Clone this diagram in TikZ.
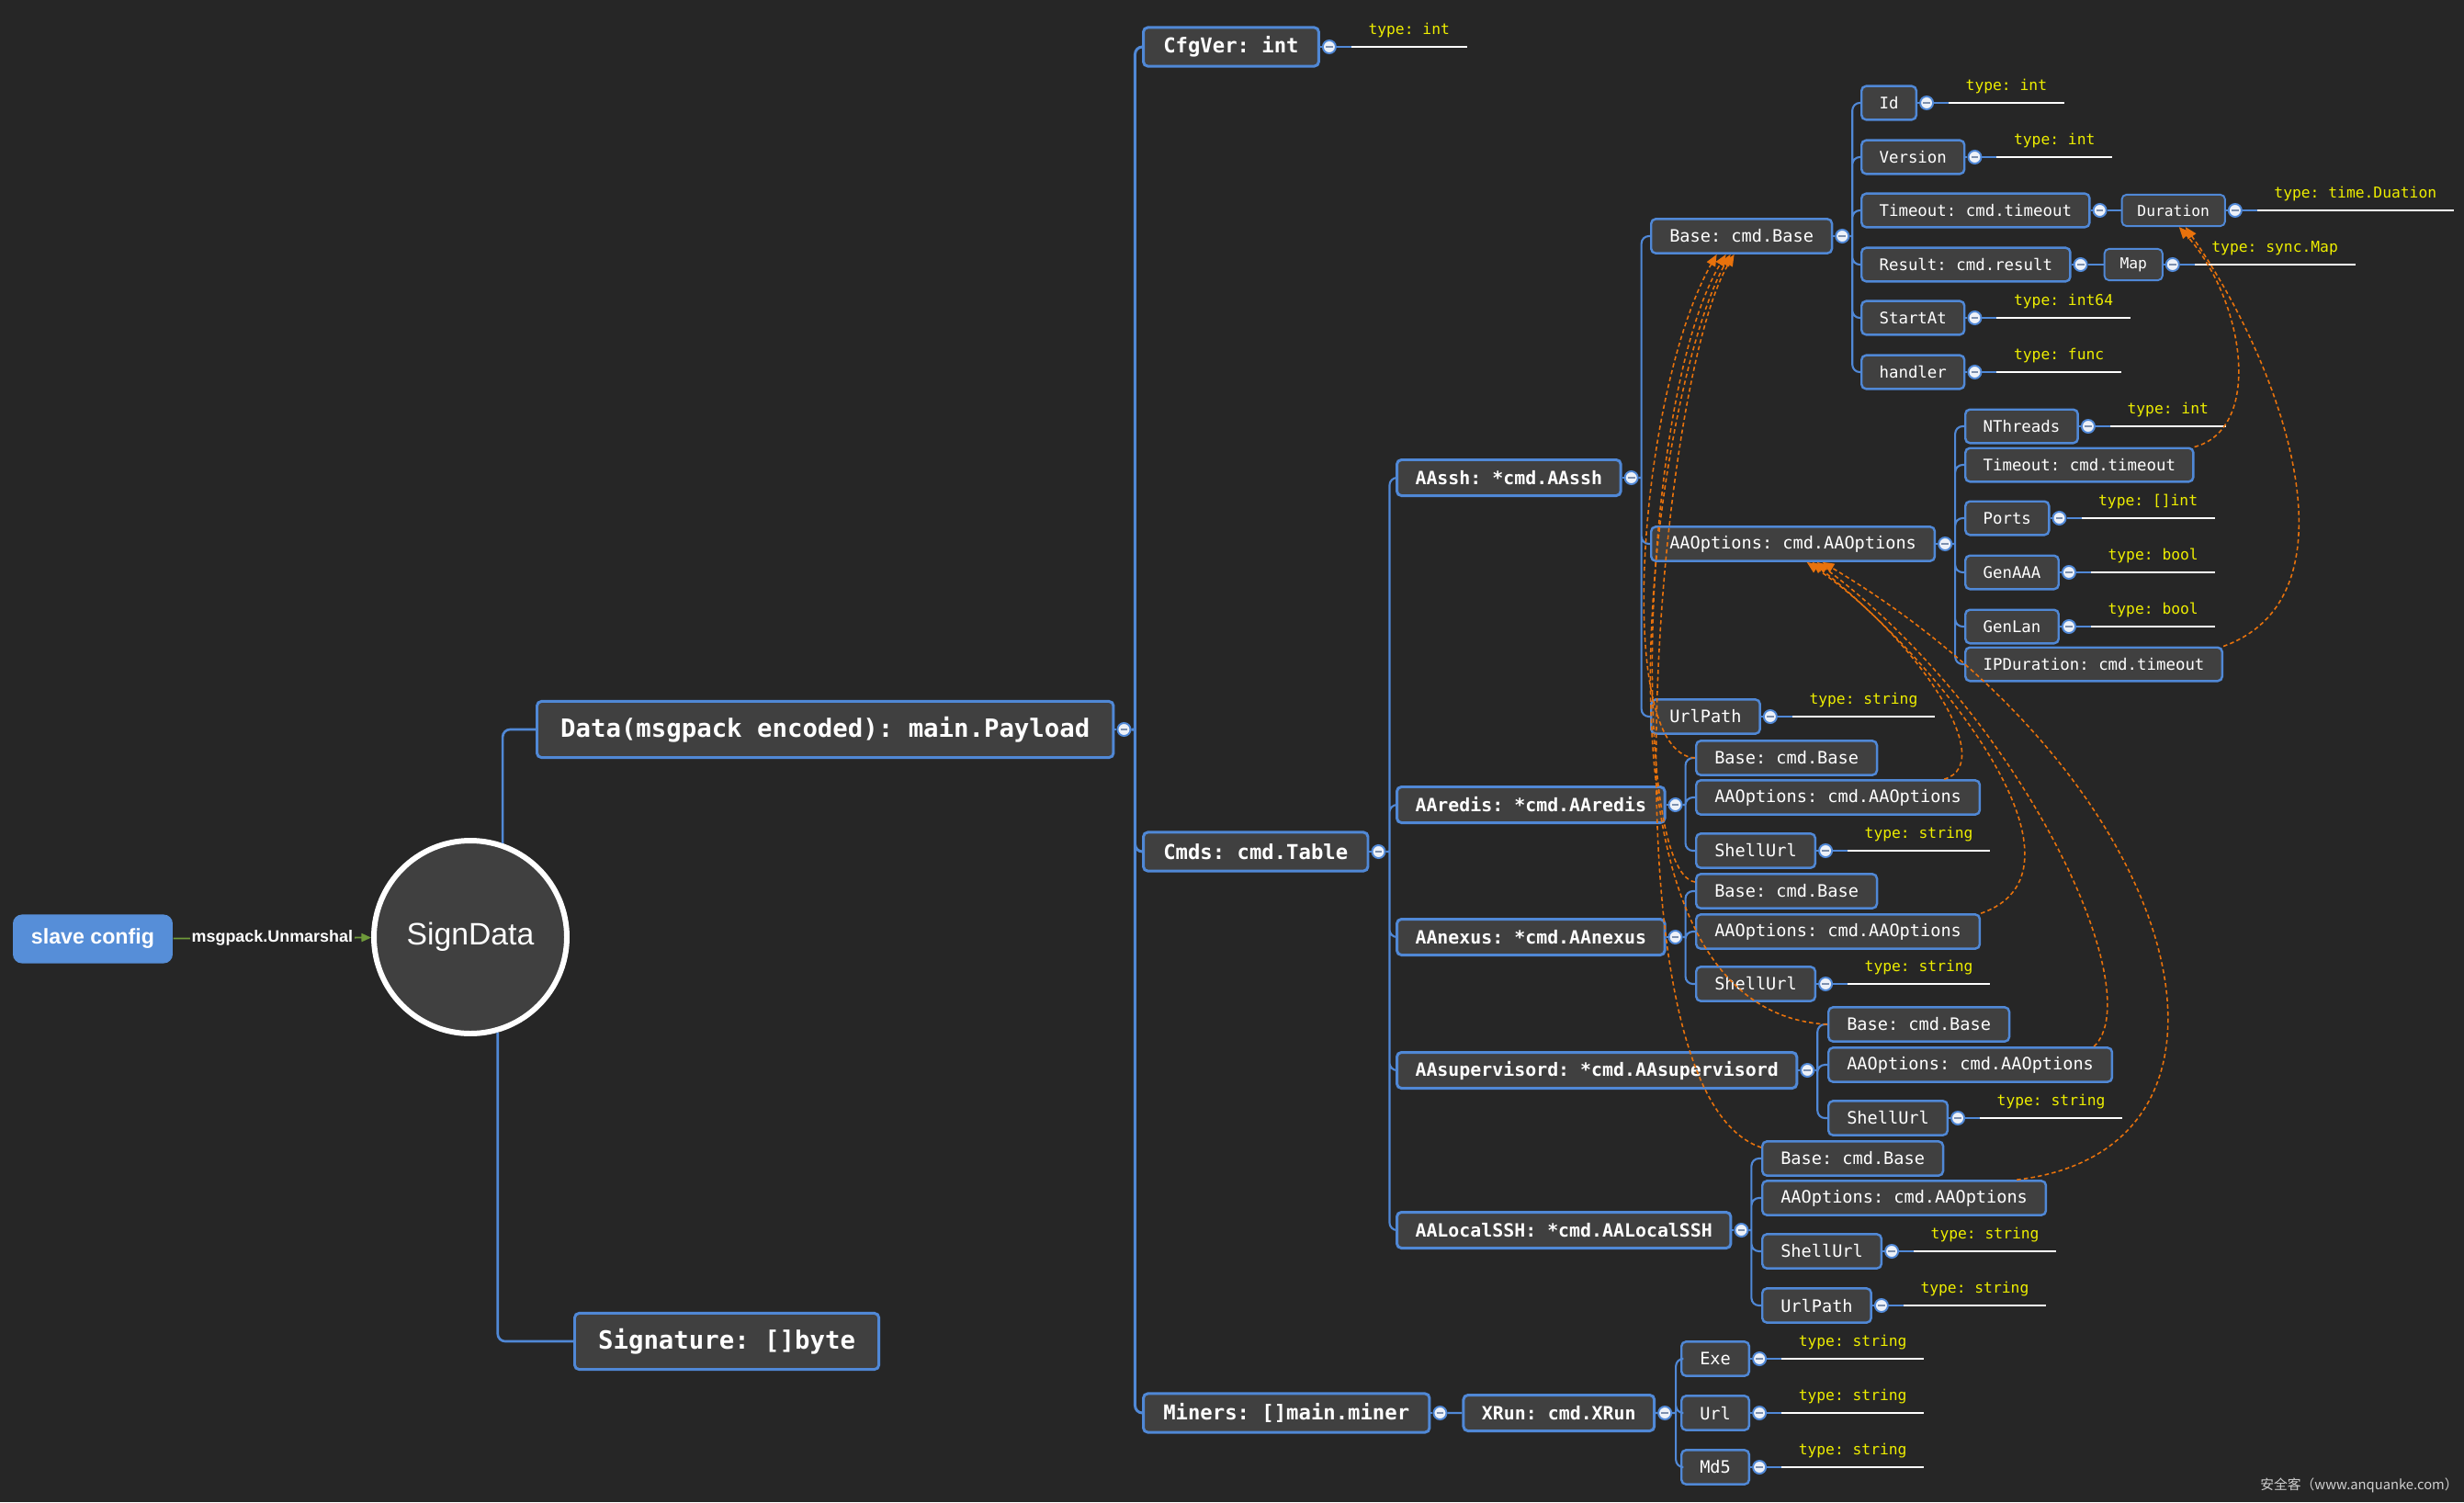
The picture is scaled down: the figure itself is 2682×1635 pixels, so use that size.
\documentclass[tikz,border=0pt]{standalone}
\usepackage{fontspec}
\setmainfont{Liberation Sans}
\setmonofont{DejaVu Sans Mono}
\newfontfamily\cjk{Noto Sans CJK SC}
\usetikzlibrary{arrows.meta,calc}
\definecolor{bgc}{HTML}{262626}
\definecolor{nodefill}{HTML}{404040}
\definecolor{mblue}{HTML}{5088D6}
\definecolor{cfgblue}{HTML}{568ED8}
\definecolor{tyel}{HTML}{EEEE00}
\definecolor{refor}{HTML}{E8720C}
\definecolor{relgreen}{HTML}{6F9A3A}
\definecolor{btnfill}{HTML}{EDF1F8}
\definecolor{minusc}{HTML}{7D90AE}
\definecolor{wmc}{HTML}{D0D0D0}

\begin{document}
\begin{tikzpicture}[x=0.1mm,y=-0.1mm,
  box/.style={draw=mblue, fill=nodefill, text=white, rounded corners=1.4pt,
    anchor=west, inner ysep=0pt, line width=0.7pt},
  lva/.style={box, line width=0.85pt, minimum height=17.4pt, inner xsep=7.3pt,
    font=\fontsize{7.78pt}{9pt}\selectfont\ttfamily\bfseries},
  lvb/.style={box, line width=0.85pt, minimum height=12pt, inner xsep=6.2pt,
    font=\fontsize{6.33pt}{7.5pt}\selectfont\ttfamily\bfseries},
  lvc/.style={box, line width=0.85pt, minimum height=11.1pt, inner xsep=5.7pt,
    font=\fontsize{5.66pt}{7pt}\selectfont\ttfamily\bfseries},
  lvd/.style={box, minimum height=10.6pt, inner xsep=5.7pt,
    font=\fontsize{5.29pt}{6.5pt}\selectfont\ttfamily},
  lve/.style={box, minimum height=10.4pt, inner xsep=5.5pt,
    font=\fontsize{4.95pt}{6pt}\selectfont\ttfamily},
  lvf/.style={box, line width=0.55pt, minimum height=9.7pt, inner xsep=4.8pt,
    font=\fontsize{4.64pt}{5.5pt}\selectfont\ttfamily},
  btn/.style={circle, draw=mblue, fill=btnfill, line width=0.55pt,
    minimum size=4pt, inner sep=0pt,
    path picture={\draw[minusc, line width=0.55pt]
      ([xshift=-1.1pt]path picture bounding box.center) --
      ([xshift=1.1pt]path picture bounding box.center);}},
  uline/.style={draw=white, line width=0.45pt},
  typ/.style={anchor=south west, text=tyel, inner xsep=5.1pt, inner ysep=2.6pt,
    font=\fontsize{4.64pt}{5.5pt}\selectfont\ttfamily,
    append after command={\pgfextra{\let\typnode\tikzlastnode}
      (\typnode.south west) edge[uline] (\typnode.south east)}},
  stem/.style={draw=mblue, line width=0.6pt, rounded corners=2.3pt},
  trunk/.style={stem, line width=0.85pt},
  relink/.style={draw=refor, line width=0.45pt, dash pattern=on 1.3pt off 0.9pt,
    -{Triangle[length=3.6pt,width=3pt]}},
  unmarsh/.style={draw=relgreen, line width=0.5pt, -{Triangle[length=3pt,width=2.6pt]}},
  unmlab/.style={fill=bgc, text=white, inner xsep=0.5pt, inner ysep=1pt,
    font=\fontsize{5.1pt}{6pt}\selectfont\bfseries},
  cfgbox/.style={fill=cfgblue, rounded corners=2.8pt, minimum width=49.5pt,
    minimum height=15.1pt, inner sep=0pt, text=white,
    font=\fontsize{6.6pt}{8pt}\selectfont\bfseries},
  rootc/.style={circle, draw=white, line width=1.7pt, fill=nodefill,
    minimum size=59.75pt, inner sep=0pt, text=white,
    font=\fontsize{9.6pt}{11pt}\selectfont}]
\useasboundingbox (0,0) rectangle (2682,1635);
\fill[bgc] (0,0) rectangle (2682,1635);

% root
\node[cfgbox] (slave) at (101,1022) {slave config};
\node[rootc] (sign) at (512,1020) {SignData};
\draw[unmarsh] (slave) -- node[unmlab] (unm) {msgpack.Unmarshal} (sign);

% payload and signature
\node[lva] (data) at (583,794) {Data(msgpack encoded): main.Payload};
\node[btn] (dataB) at ($(data.east)+(10,0)$) {};
\node[lva] (sig) at (624,1460) {Signature: []byte};
\draw[stem, line width=0.75pt] (sign.71) |- (data.west) (sign.-74) |- (sig.west);
\draw[stem] (data) -- (dataB);

% payload fields
\node[lvb] (cfg) at (1243,51) {CfgVer: int};
\node[btn] (cfgB) at ($(cfg.east)+(10,0)$) {};
\node[typ] (cfgT) at ($(cfgB.east)+(16,0)$) {type: int};
\node[lvb] (cmds) at (1243,927) {Cmds: cmd.Table};
\node[btn] (cmdsB) at ($(cmds.east)+(10,0)$) {};
\node[lvb] (miners) at (1243,1538) {Miners: []main.miner};
\node[btn] (minersB) at ($(miners.east)+(10,0)$) {};
\draw[trunk] (dataB.east) -- ++(4,0) coordinate (jData)
  (jData) |- (cfg.west) (jData) |- (cmds.west) (jData) |- (miners.west);
\draw[stem] (cfg) -- (cfgB) (cfgB.east) -- (cfgT.south west)
  (cmds) -- (cmdsB) (miners) -- (minersB);

% cmd table
\node[lvc] (assh) at (1519,520) {AAssh: *cmd.AAssh};
\node[btn] (asshB) at ($(assh.east)+(10,0)$) {};
\node[lvc] (redis) at (1519,876) {AAredis: *cmd.AAredis};
\node[btn] (redisB) at ($(redis.east)+(10,0)$) {};
\node[lvc] (nexus) at (1519,1020) {AAnexus: *cmd.AAnexus};
\node[btn] (nexusB) at ($(nexus.east)+(10,0)$) {};
\node[lvc] (superv) at (1519,1165) {AAsupervisord: *cmd.AAsupervisord};
\node[btn] (supervB) at ($(superv.east)+(10,0)$) {};
\node[lvc] (lssh) at (1519,1339) {AALocalSSH: *cmd.AALocalSSH};
\node[btn] (lsshB) at ($(lssh.east)+(10,0)$) {};
\draw[stem] (cmdsB.east) -- ++(4,0) coordinate (jCmds)
  (jCmds) |- (assh.west) (jCmds) |- (redis.west) (jCmds) |- (nexus.west)
  (jCmds) |- (superv.west) (jCmds) |- (lssh.west);
\draw[stem] (assh) -- (asshB) (redis) -- (redisB) (nexus) -- (nexusB)
  (superv) -- (supervB) (lssh) -- (lsshB);

% AAssh
\node[lvd] (asBase) at (1796,257) {Base: cmd.Base};
\node[btn] (asBaseB) at ($(asBase.east)+(10,0)$) {};
\node[lvd] (asOpt) at (1796,592) {AAOptions: cmd.AAOptions};
\node[btn] (asOptB) at ($(asOpt.east)+(10,0)$) {};
\node[lvd] (asUrl) at (1796,780) {UrlPath};
\node[btn] (asUrlB) at ($(asUrl.east)+(10,0)$) {};
\node[typ] (asUrlT) at ($(asUrlB.east)+(16,0)$) {type: string};
\draw[stem] (asshB.east) -- ++(3,0) coordinate (jAssh)
  (jAssh) |- (asBase.west) (jAssh) |- (asOpt.west) (jAssh) |- (asUrl.west);
\draw[stem] (asBase) -- (asBaseB) (asOpt) -- (asOptB) (asUrl) -- (asUrlB)
  (asUrlB.east) -- (asUrlT.south west);

% cmd.Base
\node[lve] (bId) at (2025,112) {Id};
\node[btn] (bIdB) at ($(bId.east)+(10,0)$) {};
\node[typ] (bIdT) at ($(bIdB.east)+(16,0)$) {type: int};
\node[lve] (bVer) at (2025,171) {Version};
\node[btn] (bVerB) at ($(bVer.east)+(10,0)$) {};
\node[typ] (bVerT) at ($(bVerB.east)+(16,0)$) {type: int};
\node[lve] (bTo) at (2025,229) {Timeout: cmd.timeout};
\node[btn] (bToB) at ($(bTo.east)+(10,0)$) {};
\node[lvf] (dur) at ($(bToB.east)+(15,0)$) {Duration};
\node[btn] (durB) at ($(dur.east)+(10,0)$) {};
\node[typ] (durT) at ($(durB.east)+(16,0)$) {type: time.Duation};
\node[lve] (bRes) at (2025,288) {Result: cmd.result};
\node[btn] (bResB) at ($(bRes.east)+(10,0)$) {};
\node[lvf] (map) at ($(bResB.east)+(17,0)$) {Map};
\node[btn] (mapB) at ($(map.east)+(10,0)$) {};
\node[typ] (mapT) at ($(mapB.east)+(16,0)$) {type: sync.Map};
\node[lve] (bStart) at (2025,346) {StartAt};
\node[btn] (bStartB) at ($(bStart.east)+(10,0)$) {};
\node[typ] (bStartT) at ($(bStartB.east)+(16,0)$) {type: int64};
\node[lve] (bHand) at (2025,405) {handler};
\node[btn] (bHandB) at ($(bHand.east)+(10,0)$) {};
\node[typ] (bHandT) at ($(bHandB.east)+(16,0)$) {type: func};
\draw[stem] (asBaseB.east) -- ++(3,0) coordinate (jBase)
  (jBase) |- (bId.west) (jBase) |- (bVer.west) (jBase) |- (bTo.west)
  (jBase) |- (bRes.west) (jBase) |- (bStart.west) (jBase) |- (bHand.west);
\draw[stem] (bId) -- (bIdB) (bIdB.east) -- (bIdT.south west)
  (bVer) -- (bVerB) (bVerB.east) -- (bVerT.south west)
  (bTo) -- (bToB) (bToB) -- (dur) (dur) -- (durB) (durB.east) -- (durT.south west)
  (bRes) -- (bResB) (bResB) -- (map) (map) -- (mapB) (mapB.east) -- (mapT.south west)
  (bStart) -- (bStartB) (bStartB.east) -- (bStartT.south west)
  (bHand) -- (bHandB) (bHandB.east) -- (bHandT.south west);

% cmd.AAOptions
\node[lve] (oThr) at (2138,464) {NThreads};
\node[btn] (oThrB) at ($(oThr.east)+(10,0)$) {};
\node[typ] (oThrT) at ($(oThrB.east)+(16,0)$) {type: int};
\node[lve] (oTo) at (2138,506) {Timeout: cmd.timeout};
\node[lve] (oPorts) at (2138,564) {Ports};
\node[btn] (oPortsB) at ($(oPorts.east)+(10,0)$) {};
\node[typ] (oPortsT) at ($(oPortsB.east)+(16,0)$) {type: []int};
\node[lve] (oGenA) at (2138,623) {GenAAA};
\node[btn] (oGenAB) at ($(oGenA.east)+(10,0)$) {};
\node[typ] (oGenAT) at ($(oGenAB.east)+(16,0)$) {type: bool};
\node[lve] (oGenL) at (2138,682) {GenLan};
\node[btn] (oGenLB) at ($(oGenL.east)+(10,0)$) {};
\node[typ] (oGenLT) at ($(oGenLB.east)+(16,0)$) {type: bool};
\node[lve] (oIPd) at (2138,723) {IPDuration: cmd.timeout};
\draw[stem] (asOptB.east) -- ++(3,0) coordinate (jOpt)
  (jOpt) |- (oThr.west) (jOpt) |- (oTo.west) (jOpt) |- (oPorts.west)
  (jOpt) |- (oGenA.west) (jOpt) |- (oGenL.west) (jOpt) |- (oIPd.west);
\draw[stem] (oThr) -- (oThrB) (oThrB.east) -- (oThrT.south west)
  (oPorts) -- (oPortsB) (oPortsB.east) -- (oPortsT.south west)
  (oGenA) -- (oGenAB) (oGenAB.east) -- (oGenAT.south west)
  (oGenL) -- (oGenLB) (oGenLB.east) -- (oGenLT.south west);

% AAredis
\node[lvd] (rBase) at (1845,825) {Base: cmd.Base};
\node[lvd] (rOpt) at (1845,868) {AAOptions: cmd.AAOptions};
\node[lvd] (rShell) at (1845,926) {ShellUrl};
\node[btn] (rShellB) at ($(rShell.east)+(10,0)$) {};
\node[typ] (rShellT) at ($(rShellB.east)+(16,0)$) {type: string};
\draw[stem] (redisB.east) -- ++(3,0) coordinate (jRedis)
  (jRedis) |- (rBase.west) (jRedis) |- (rOpt.west) (jRedis) |- (rShell.west);
\draw[stem] (rShell) -- (rShellB) (rShellB.east) -- (rShellT.south west);

% AAnexus
\node[lvd] (nBase) at (1845,970) {Base: cmd.Base};
\node[lvd] (nOpt) at (1845,1014) {AAOptions: cmd.AAOptions};
\node[lvd] (nShell) at (1845,1071) {ShellUrl};
\node[btn] (nShellB) at ($(nShell.east)+(10,0)$) {};
\node[typ] (nShellT) at ($(nShellB.east)+(16,0)$) {type: string};
\draw[stem] (nexusB.east) -- ++(3,0) coordinate (jNexus)
  (jNexus) |- (nBase.west) (jNexus) |- (nOpt.west) (jNexus) |- (nShell.west);
\draw[stem] (nShell) -- (nShellB) (nShellB.east) -- (nShellT.south west);

% AAsupervisord
\node[lvd] (sBase) at (1989,1115) {Base: cmd.Base};
\node[lvd] (sOpt) at (1989,1159) {AAOptions: cmd.AAOptions};
\node[lvd] (sShell) at (1989,1217) {ShellUrl};
\node[btn] (sShellB) at ($(sShell.east)+(10,0)$) {};
\node[typ] (sShellT) at ($(sShellB.east)+(16,0)$) {type: string};
\draw[stem] (supervB.east) -- ++(3,0) coordinate (jSuperv)
  (jSuperv) |- (sBase.west) (jSuperv) |- (sOpt.west) (jSuperv) |- (sShell.west);
\draw[stem] (sShell) -- (sShellB) (sShellB.east) -- (sShellT.south west);

% AALocalSSH
\node[lvd] (lBase) at (1917,1261) {Base: cmd.Base};
\node[lvd] (lOpt) at (1917,1304) {AAOptions: cmd.AAOptions};
\node[lvd] (lShell) at (1917,1362) {ShellUrl};
\node[btn] (lShellB) at ($(lShell.east)+(10,0)$) {};
\node[typ] (lShellT) at ($(lShellB.east)+(16,0)$) {type: string};
\node[lvd] (lUrl) at (1917,1421) {UrlPath};
\node[btn] (lUrlB) at ($(lUrl.east)+(10,0)$) {};
\node[typ] (lUrlT) at ($(lUrlB.east)+(16,0)$) {type: string};
\draw[stem] (lsshB.east) -- ++(3,0) coordinate (jLssh)
  (jLssh) |- (lBase.west) (jLssh) |- (lOpt.west) (jLssh) |- (lShell.west)
  (jLssh) |- (lUrl.west);
\draw[stem] (lShell) -- (lShellB) (lShellB.east) -- (lShellT.south west)
  (lUrl) -- (lUrlB) (lUrlB.east) -- (lUrlT.south west);

% miners
\node[lvc] (xrun) at ($(minersB.east)+(16,0)$) {XRun: cmd.XRun};
\node[btn] (xrunB) at ($(xrun.east)+(10,0)$) {};
\node[lvd] (xExe) at (1829,1479) {Exe};
\node[btn] (xExeB) at ($(xExe.east)+(10,0)$) {};
\node[typ] (xExeT) at ($(xExeB.east)+(16,0)$) {type: string};
\node[lvd] (xUrl) at (1829,1538) {Url};
\node[btn] (xUrlB) at ($(xUrl.east)+(10,0)$) {};
\node[typ] (xUrlT) at ($(xUrlB.east)+(16,0)$) {type: string};
\node[lvd] (xMd5) at (1829,1597) {Md5};
\node[btn] (xMd5B) at ($(xMd5.east)+(10,0)$) {};
\node[typ] (xMd5T) at ($(xMd5B.east)+(16,0)$) {type: string};
\draw[stem] (minersB) -- (xrun) (xrun) -- (xrunB)
  (xrunB.east) -- ++(4,0) coordinate (jXrun)
  (jXrun) |- (xExe.west) (jXrun) |- (xUrl.west) (jXrun) |- (xMd5.west);
\draw[stem] (xExe) -- (xExeB) (xExeB.east) -- (xExeT.south west)
  (xUrl) -- (xUrlB) (xUrlB.east) -- (xUrlT.south west)
  (xMd5) -- (xMd5B) (xMd5B.east) -- (xMd5T.south west);

% type references
\draw[relink] (rBase.west) .. controls +(-90,-5) and +(-85,150) .. ($(asBase.south)+(-27,0)$);
\draw[relink] ($(nBase.west)+(0,-10)$) .. controls +(-70,-10) and +(-95,160) .. ($(asBase.south)+(-17,0)$);
\draw[relink] (sBase.west) .. controls +(-289,-15) and +(-82,144) .. ($(asBase.south)+(-12,0)$);
\draw[relink] ($(lBase.west)+(0,-12)$) .. controls +(-177,-59) and +(-86,144) .. ($(asBase.south)+(-8,0)$);
\draw[relink] ($(rOpt.north east)+(-40,0)$) .. controls +(62,-18) and +(114,77) .. ($(asOpt.south)+(15,0)$);
\draw[relink] (nOpt.north east) .. controls +(128,-44) and +(158,127) .. ($(asOpt.south)+(21,0)$);
\draw[relink] ($(sOpt.north east)+(-21,0)$) .. controls +(62,-59) and +(223,167) .. ($(asOpt.south)+(26,0)$);
\draw[relink] ($(lOpt.north east)+(-33,0)$) .. controls +(287,-34) and +(397,237) .. ($(asOpt.south)+(32,0)$);
\draw[relink] (oTo.north east) .. controls +(75,-20) and +(72,80) .. ($(dur.south)+(6,0)$);
\draw[relink] (oIPd.north east) .. controls +(153,-55) and +(105,150) .. ($(dur.south)+(13,0)$);

\node[anchor=east, text=wmc, font=\cjk\fontsize{4.2pt}{5pt}\selectfont] (wm) at (2688,1617) {安全客（www.anquanke.com）};
\end{tikzpicture}
\end{document}
